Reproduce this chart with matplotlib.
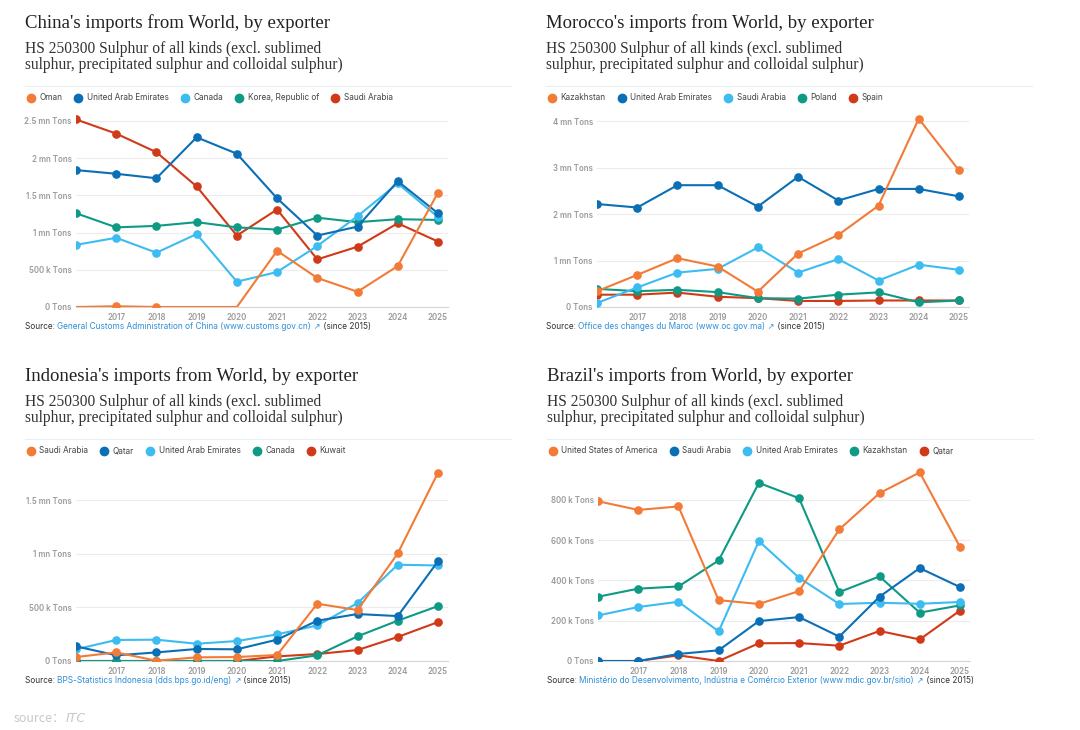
import matplotlib
matplotlib.use("Agg")
import matplotlib.pyplot as plt
from matplotlib.lines import Line2D
from matplotlib.ticker import FuncFormatter, FixedLocator

years = [2016, 2017, 2018, 2019, 2020, 2021, 2022, 2023, 2024, 2025]

# China (mn tons)
china_names = ["Oman", "United Arab Emirates", "Canada", "Korea, Republic of", "Saudi Arabia"]
china_oman = [0, 0.01, 0, 0, 0, 0.755, 0.39, 0.205, 0.55, 1.535]
china_uae = [1.84, 1.79, 1.73, 2.28, 2.06, 1.46, 0.96, 1.08, 1.69, 1.26]
china_canada = [0.835, 0.93, 0.73, 0.98, 0.34, 0.47, 0.82, 1.22, 1.66, 1.21]
china_korea = [1.26, 1.07, 1.09, 1.14, 1.07, 1.04, 1.20, 1.14, 1.18, 1.17]
china_saudi = [2.52, 2.33, 2.08, 1.62, 0.96, 1.31, 0.64, 0.81, 1.125, 0.88]

# Morocco (mn tons)
morocco_names = ["Kazakhstan", "United Arab Emirates", "Saudi Arabia", "Poland", "Spain"]
morocco_kaz = [0.34, 0.69, 1.05, 0.87, 0.33, 1.15, 1.55, 2.18, 4.05, 2.94]
morocco_uae = [2.215, 2.14, 2.62, 2.62, 2.16, 2.80, 2.29, 2.54, 2.54, 2.38]
morocco_saudi = [0.086, 0.42, 0.74, 0.82, 1.28, 0.74, 1.03, 0.57, 0.91, 0.80]
morocco_poland = [0.39, 0.34, 0.37, 0.32, 0.19, 0.18, 0.265, 0.315, 0.10, 0.14]
morocco_spain = [0.265, 0.265, 0.31, 0.22, 0.19, 0.13, 0.13, 0.14, 0.14, 0.14]

# Indonesia (mn tons)
indo_names = ["Saudi Arabia", "Qatar", "United Arab Emirates", "Canada", "Kuwait"]
indo_saudi = [0.037, 0.08, 0.003, 0.034, 0.037, 0.056, 0.534, 0.475, 1.003, 1.755]
indo_qatar = [0.137, 0.053, 0.08, 0.112, 0.109, 0.199, 0.376, 0.438, 0.419, 0.929]
indo_uae = [0.109, 0.196, 0.199, 0.161, 0.186, 0.248, 0.332, 0.54, 0.898, 0.891]
indo_canada = [0, 0, 0, 0, 0, 0, 0.053, 0.23, 0.376, 0.512]
indo_kuwait = [0, 0, 0, 0, 0, 0.043, 0.065, 0.102, 0.224, 0.363]

# Brazil (k tons)
brazil_names = ["United States of America", "Saudi Arabia", "United Arab Emirates", "Kazakhstan", "Qatar"]
brazil_usa = [793, 750, 767, 302, 283, 347, 653, 833, 936, 567]
brazil_saudi = [0, 0, 35, 53, 198, 218, 121, 319, 461, 367]
brazil_uae = [226, 268, 294, 147, 595, 413, 283, 289, 284, 293]
brazil_kaz = [319, 359, 370, 499, 884, 808, 342, 420, 240, 276]
brazil_qatar = [0, 0, 28, 0, 88, 89, 76, 149, 107, 250]

colors = ["#f27b38", "#0b6fb6", "#3cbcf0", "#0e9a85", "#d03a18"]
subtitle = "HS 250300 Sulphur of all kinds (excl. sublimed\nsulphur, precipitated sulphur and colloidal sulphur)"

W, H = 1080, 730
fig = plt.figure(figsize=(10.8, 7.3), dpi=100)
SANS = "Inter"
SERIF = "Liberation Serif"
GRAY = "#9a9a9a"


def fmt_mn(v, pos):
    if abs(v) < 1e-9:
        return "0 Tons"
    if v < 1:
        return f"{v * 1000:g} k Tons"
    return f"{v:g} mn Tons"


def fmt_k(v, pos):
    if abs(v) < 1e-9:
        return "0 Tons"
    return f"{v:g} k Tons"


def panel(x0, title, names, series, yticks, ytop, fmt, src_link, top, bottom, hide=None):
    # header texts
    fig.text(x0 / W, 1 - (top - 92) / H, title, family=SERIF, fontsize=13.5,
             color="#222222", va="center")
    fig.text(x0 / W, 1 - (top - 58) / H, subtitle, family=SERIF, fontsize=11.2,
             color="#333333", va="center", linespacing=1.05)
    fig.add_artist(Line2D([x0 / W, (x0 + 486) / W], [1 - (top - 29) / H] * 2,
                          color="#e9eef4", lw=0.8))
    left = x0 + 51
    right = x0 + 423
    ax = fig.add_axes([left / W, 1 - bottom / H, (right - left) / W, (bottom - top) / H])
    for i, (name, vals) in enumerate(zip(names, series)):
        mk = None
        if hide and name in hide:
            mk = [j for j in range(len(vals)) if j not in hide[name]]
        ax.plot(years, vals, color=colors[i], lw=1.5, marker="o", ms=5.2,
                markevery=mk, label=name, zorder=3 + (4 - i) * 0.1)
    ax.set_xlim(2016, 2025.25)
    ax.set_ylim(0, ytop)
    ax.xaxis.set_major_locator(FixedLocator(years[1:]))
    ax.yaxis.set_major_locator(FixedLocator(yticks))
    ax.yaxis.set_major_formatter(FuncFormatter(fmt))
    ax.grid(axis="y", color="#ececec", lw=0.8, zorder=0)
    for s in ["top", "right", "left"]:
        ax.spines[s].set_visible(False)
    ax.spines["bottom"].set_color("#d5d5d5")
    ax.tick_params(axis="both", length=0, labelsize=5.7, labelcolor=GRAY, pad=3)
    ax.tick_params(axis="x", pad=4)
    for lab in ax.get_xticklabels() + ax.get_yticklabels():
        lab.set_family(SANS)
        lab.set_fontweight("semibold")
    # legend
    handles = [Line2D([], [], ls="none", marker="o", ms=6, color=c) for c in colors]
    fig.legend(handles, names, loc="center left",
               bbox_to_anchor=(x0 / W - 0.006, 1 - (top - 17) / H), ncol=5,
               frameon=False, prop={"family": SANS, "size": 5.9},
               handletextpad=0.45, columnspacing=1.35, handlelength=1.2,
               labelcolor="#444444")
    # source line
    r = fig.canvas.get_renderer()
    ys = 1 - (bottom + 22) / H
    t = fig.text(x0 / W, ys, "Source: ", family=SANS, fontsize=5.95, color="#333333", va="baseline")
    xx = t.get_window_extent(r).x1
    t = fig.text(xx / W, ys, src_link, family=SANS, fontsize=5.95, color="#2d8ed8", va="baseline")
    xx = t.get_window_extent(r).x1
    t = fig.text(xx / W, ys, " \u2197", family="DejaVu Sans", fontsize=5.95, color="#2d8ed8", va="baseline")
    xx = t.get_window_extent(r).x1
    fig.text(xx / W, ys, " (since 2015)", family=SANS, fontsize=5.95, color="#333333", va="baseline")
    return ax


panel(25, "China's imports from World, by exporter", china_names,
      [china_oman, china_uae, china_canada, china_korea, china_saudi],
      [0, 0.5, 1, 1.5, 2, 2.5], 2.58, fmt_mn,
      "General Customs Administration of China (www.customs.gov.cn)", 115, 307,
      hide={"Oman": [0, 3, 4]})

panel(546, "Morocco's imports from World, by exporter", morocco_names,
      [morocco_kaz, morocco_uae, morocco_saudi, morocco_poland, morocco_spain],
      [0, 1, 2, 3, 4], 4.13, fmt_mn,
      "Office des changes du Maroc (www.oc.gov.ma)", 115, 307)

panel(25, "Indonesia's imports from World, by exporter", indo_names,
      [indo_saudi, indo_qatar, indo_uae, indo_canada, indo_kuwait],
      [0, 0.5, 1, 1.5], 1.80, fmt_mn,
      "BPS-Statistics Indonesia (dds.bps.go.id/eng)", 468, 661)

panel(547, "Brazil's imports from World, by exporter", brazil_names,
      [brazil_usa, brazil_saudi, brazil_uae, brazil_kaz, brazil_qatar],
      [0, 200, 400, 600, 800], 958, fmt_k,
      "Minist\u00e9rio do Desenvolvimento, Ind\u00fastria e Com\u00e9rcio Exterior (www.mdic.gov.br/sitio)",
      468, 661)

# bottom watermark
r = fig.canvas.get_renderer()
t = fig.text(14 / W, 1 - 718 / H, "source\uff1a", family=["Noto Sans CJK SC", "DejaVu Sans"],
             fontsize=9, color="#c8c8c8", va="center")
xx = t.get_window_extent(r).x1
fig.text(xx / W, 1 - 718 / H, "ITC", family="DejaVu Sans", style="italic",
         fontsize=9, color="#c8c8c8", va="center")

fig.savefig("out.png", dpi=100, facecolor="white")
